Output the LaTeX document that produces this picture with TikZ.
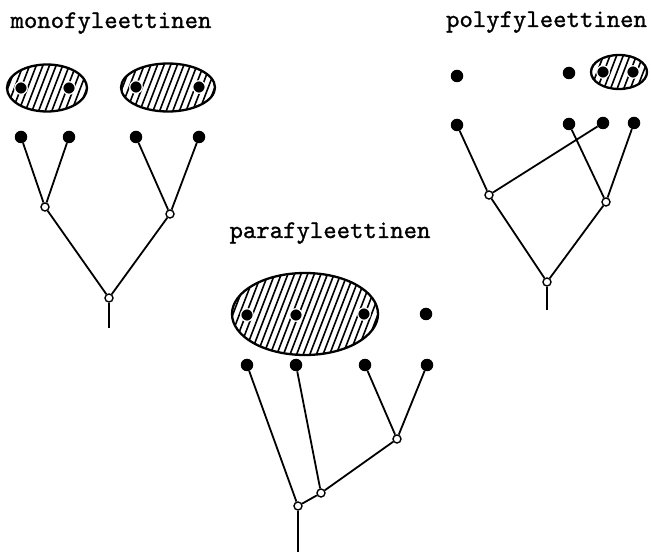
\documentclass[tikz,border=0pt]{standalone}
\usepackage{fontspec}
\newfontfamily\titlefont{lmmono10-regular.otf}[FakeBold=1.0]
\tikzset{
  leaf/.style={circle,fill=black,inner sep=0pt,minimum size=12.5pt},
  inner/.style={circle,draw=black,fill=white,inner sep=0pt,minimum size=8pt,line width=1.4pt},
  edge/.style={line width=1.8pt,black},
  title/.style={font=\titlefont\fontsize{25.5}{30}\selectfont,anchor=base,inner sep=0pt},
  ring/.style={draw=white,line width=1.2pt}
}
\newcommand{\myhatch}[4]{%
  \begin{scope}
    \clip (#1,#2) ellipse [x radius=#3, y radius=#4];
    \pgfmathsetmacro{\hdx}{2*#4/2.6}
    \foreach \xx in {-200,-193.4,...,200}{
      \draw[line width=1.6pt] ({#1+\xx},{#2+#4}) -- ++(\hdx,{-2*#4});
    }
  \end{scope}
  \draw[line width=2.3pt] (#1,#2) ellipse [x radius=#3, y radius=#4];
}
\begin{document}
\begin{tikzpicture}[x=1pt,y=-1pt]
\useasboundingbox (0,0) rectangle (651,553);
% ---------- monofyleettinen ----------
\node[title] (tm) at (111,28) {monofyleettinen};
\myhatch{47}{88}{40}{23.5}
\myhatch{168}{87.5}{47}{24}
\node[leaf,ring] (me1) at (21,88) {};
\node[leaf,ring] (me2) at (69,88) {};
\node[leaf,ring] (me3) at (136,87) {};
\node[leaf,ring] (me4) at (199,87) {};
\node[leaf] (m1) at (21,137) {};
\node[leaf] (m2) at (69,137) {};
\node[leaf] (m3) at (136,137) {};
\node[leaf] (m4) at (199,137) {};
\node[inner] (ma) at (45,207) {};
\node[inner] (mb) at (170,214) {};
\node[inner] (mr) at (109,298) {};
\coordinate (ms) at (109,328);
\draw[edge] (m1) -- (ma); \draw[edge] (m2) -- (ma);
\draw[edge] (m3) -- (mb); \draw[edge] (m4) -- (mb);
\draw[edge] (ma) -- (mr); \draw[edge] (mb) -- (mr);
\draw[edge] (mr) -- (ms);
% ---------- polyfyleettinen ----------
\node[title] (tp) at (546.5,27) {polyfyleettinen};
\myhatch{619}{72}{28}{17}
\node[leaf] (pe1) at (457,76) {};
\node[leaf] (pe2) at (569,73) {};
\node[leaf,ring] (pe3) at (603,72) {};
\node[leaf,ring] (pe4) at (633,72) {};
\node[leaf] (p1) at (457,125) {};
\node[leaf] (p2) at (569,124) {};
\node[leaf] (p3) at (603,123) {};
\node[leaf] (p4) at (634,123) {};
\node[inner] (pa) at (489,195) {};
\node[inner] (pb) at (606,202) {};
\node[inner] (pr) at (547,282) {};
\coordinate (ps) at (547,310);
\draw[edge] (p1) -- (pa); \draw[edge] (p3) -- (pa);
\draw[edge] (p2) -- (pb); \draw[edge] (p4) -- (pb);
\draw[edge] (pa) -- (pr); \draw[edge] (pb) -- (pr);
\draw[edge] (pr) -- (ps);
% ---------- parafyleettinen ----------
\node[title] (tq) at (330,238) {parafyleettinen};
\myhatch{305}{314}{73}{41}
\node[leaf,ring] (qe1) at (247,315) {};
\node[leaf,ring] (qe2) at (296,315) {};
\node[leaf,ring] (qe3) at (364,314) {};
\node[leaf] (qe4) at (426,314) {};
\node[leaf] (q1) at (247,365) {};
\node[leaf] (q2) at (296,365) {};
\node[leaf] (q3) at (365,365) {};
\node[leaf] (q4) at (427,365) {};
\node[inner] (qc) at (397,439) {};
\node[inner] (qd) at (321,493) {};
\node[inner] (qr) at (298,506) {};
\coordinate (qs) at (298,552);
\draw[edge] (q3) -- (qc); \draw[edge] (q4) -- (qc);
\draw[edge] (qc) -- (qd); \draw[edge] (q2) -- (qd);
\draw[edge] (qd) -- (qr); \draw[edge] (q1) -- (qr);
\draw[edge] (qr) -- (qs);
\end{tikzpicture}
\end{document}
